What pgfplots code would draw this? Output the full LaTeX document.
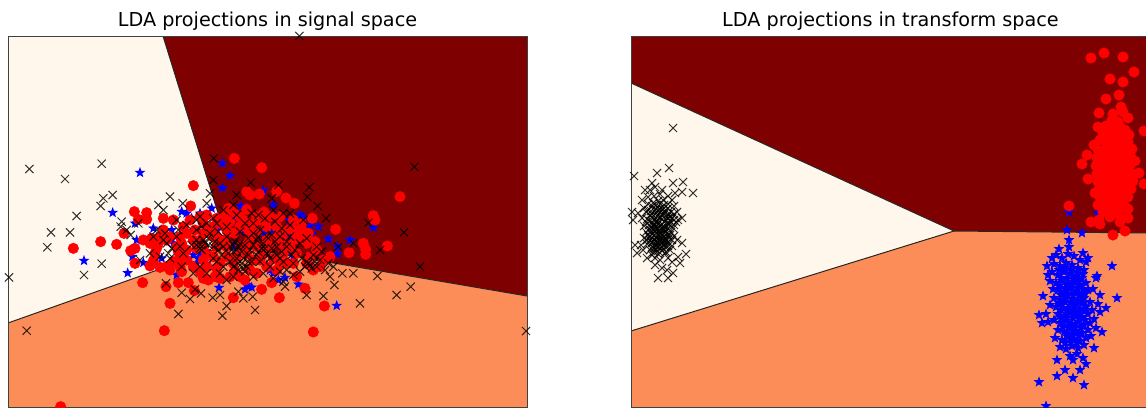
\documentclass[border=0pt]{standalone}
\usepackage{fontspec}
\setmainfont{DejaVu Sans}
\usepackage{pgfplots}
\pgfplotsset{compat=1.18}
\usetikzlibrary{plotmarks}
\definecolor{lowc}{HTML}{FFF7EC}
\definecolor{midc}{HTML}{FC8D59}
\definecolor{highc}{HTML}{7F0000}

% filled five-pointed star
\pgfdeclareplotmark{fstar}{%
  \pgfpathmoveto{\pgfqpointpolar{90}{\pgfplotmarksize}}%
  \pgfpathlineto{\pgfqpointpolar{126}{0.42\pgfplotmarksize}}%
  \pgfpathlineto{\pgfqpointpolar{162}{\pgfplotmarksize}}%
  \pgfpathlineto{\pgfqpointpolar{198}{0.42\pgfplotmarksize}}%
  \pgfpathlineto{\pgfqpointpolar{234}{\pgfplotmarksize}}%
  \pgfpathlineto{\pgfqpointpolar{270}{0.42\pgfplotmarksize}}%
  \pgfpathlineto{\pgfqpointpolar{306}{\pgfplotmarksize}}%
  \pgfpathlineto{\pgfqpointpolar{342}{0.42\pgfplotmarksize}}%
  \pgfpathlineto{\pgfqpointpolar{18}{\pgfplotmarksize}}%
  \pgfpathlineto{\pgfqpointpolar{54}{0.42\pgfplotmarksize}}%
  \pgfpathclose
  \pgfusepathqfill}

\pgfplotsset{
  panel/.style={
    scale only axis,
    width=519pt,
    height=371pt,
    anchor=south west,
    y dir=reverse,
    xtick=\empty,
    ytick=\empty,
    axis on top,
    axis line style={line width=0.9pt, black!75},
    title style={font=\fontsize{19.2}{22}\selectfont, at={(0.5,1)}, anchor=base, yshift=3.5pt},
  },
  region/.style={draw=none, fill=#1, forget plot},
  edge/.style={black!85, line width=1pt, forget plot},
  bluepts/.style={only marks, mark=fstar, mark size=5.6pt, color=blue},
  redpts/.style={only marks, mark=*, mark size=5.3pt, color=red},
  blackpts/.style={only marks, mark=x, mark size=5.8pt, color=black, mark options={line width=1.05pt, opacity=0.8}},
}

\begin{document}
\begin{tikzpicture}
\useasboundingbox (0,0) rectangle (1146pt,407pt);

% left panel, coordinates are 3x picture pixels
\begin{axis}[panel, at={(8pt,0pt)},
    xmin=24, xmax=1581, ymin=-282, ymax=831,
    title={LDA projections in signal space}]
\addplot[region=lowc] coordinates {(24,-282) (489,-282) (684,345) (24,579)} -- cycle;
\addplot[region=highc] coordinates {(489,-282) (1581,-282) (1581,498) (684,345)} -- cycle;
\addplot[region=midc] coordinates {(24,579) (684,345) (1581,498) (1581,831) (24,831)} -- cycle;
\addplot[edge] coordinates {(489,-282) (684,345) (1581,498)};
\addplot[edge] coordinates {(24,579) (684,345)};

\addplot[bluepts] coordinates {
(420,128) (667,100) (690,137) (667,174) (790,182) (338,248) (252,392) (383,429) (1010,527) (657,473)
(1120,293) (1050,330) (985,327) (955,290) (935,312) (1012,372) (1012,350) (900,255) (820,225) (722,228)
(700,258) (635,235) (600,250) (545,245) (520,270) (460,295) (405,280) (410,330) (397,380) (430,398)
(485,385) (530,435) (580,375) (590,400) (575,405) (630,410) (810,420) (835,450) (855,443) (895,463)
(745,470) (735,478) (880,380) (820,300) (760,295) (700,350) (560,250) (575,265) (515,300) (520,340)
(485,300) (600,370) (595,385) (650,300) (725,300) (790,310) (870,270) (890,300) (860,320) (930,285)
(800,405) (820,430) (900,255) (910,262) (885,290) (740,465) (755,472)
};
\addplot[redpts] coordinates {
(703,85) (785,113) (580,167) (1200,200) (1120,257) (1125,270) (1090,340) (1097,358) (1097,373) (1047,368)
(1162,348) (1007,298) (937,265) (883,220) (858,204) (830,184) (778,192) (740,185) (750,195) (740,238)
(792,246) (685,235) (572,228) (403,245) (440,248) (440,268) (415,268) (372,310) (302,335) (350,343)
(220,355) (405,355) (392,362) (430,330) (405,400) (450,408) (428,458) (460,392) (498,470) (535,458)
(565,458) (583,482) (510,520) (493,602) (940,606) (973,528) (838,503) (700,503) (785,478) (915,475)
(815,458) (182,830) (490,265) (520,270) (550,290) (600,260) (620,255) (650,265) (640,290) (660,280)
(610,280) (585,300) (540,320) (545,340) (510,320) (480,320) (450,340) (470,355) (560,360) (590,355)
(560,390) (500,410) (480,412) (510,420) (540,410) (610,445) (625,450) (645,440) (660,445) (690,440)
(735,450) (720,440) (700,310) (700,400) (740,340) (770,310) (780,270) (760,280) (830,290) (850,330)
(870,350) (905,280) (905,300) (910,330) (880,400) (920,340) (950,360) (960,410) (990,380) (970,390)
(940,420) (890,440) (760,390) (790,370) (800,410) (820,385) (650,350) (680,380) (620,370) (660,400)
(600,330) (640,320) (670,260) (630,300) (690,275) (720,260) (745,300) (800,290) (840,260) (720,350)
(770,350) (750,420) (840,340) (860,400) (930,380) (620,410) (580,330) (670,330)
(610,310) (650,320) (680,300) (720,290) (760,320) (800,330) (830,320) (860,300) (880,330) (890,370)
(850,370) (810,350) (780,390) (740,370) (710,380) (680,350) (640,380) (610,390) (580,410) (540,380)
(530,350) (610,350) (705,425) (770,430) (840,400) (920,400) (945,335) (880,270) (810,260) (700,245)
(650,415) (600,425) (830,420) (770,260) (730,270) (925,310) (520,395) (475,340)
(455,325) (500,330) (465,370) (535,365) (560,310) (570,270) (490,300) (545,425) (885,300) (905,315)
};
\addplot[blackpts] coordinates {
(88,117) (195,147) (305,101) (641,85) (1243,110) (230,258) (153,307) (210,307) (142,352) (305,401)
(252,435) (27,442) (80,602) (302,228) (310,205) (338,195) (365,275) (362,290) (392,315) (510,200)
(548,220) (475,225) (490,240) (620,220) (640,150) (752,158) (835,165) (928,172) (922,200) (953,228)
(978,265) (1105,278) (1212,307) (1140,360) (1260,410) (1132,438) (1060,430) (1027,430) (1003,465) (970,498)
(920,495) (1080,520) (1190,495) (1232,470) (765,540) (667,557) (680,528) (535,552) (570,507) (545,488)
(603,490) (638,503) (660,495) (585,478) (498,460) (715,485) (730,505) (758,500) (855,470) (710,195)
(815,205) (850,250) (600,260) (420,390) (505,370) (898,-282) (1578,603) (630,190) (415,280) (380,300)
(470,300) (490,330) (530,320) (480,380) (510,385) (550,370) (545,410) (580,430) (600,345) (590,330)
(615,340) (600,355) (625,325) (640,350) (605,290) (620,280) (655,305) (680,320) (705,335) (715,350)
(700,365) (725,365) (710,385) (690,395) (670,410) (650,395) (665,375) (640,385) (725,400) (740,410)
(755,395) (735,425) (715,420) (700,410) (760,345) (745,325) (770,330) (785,355) (800,370) (815,355)
(790,340) (830,375) (810,385) (845,365) (860,350) (780,300) (760,280) (795,265) (825,275) (845,295)
(870,285) (815,315) (840,320) (870,320) (885,360) (900,340) (920,325) (905,385) (930,405) (945,395)
(915,410) (900,425) (965,365) (985,400) (975,420) (990,440) (950,350) (940,375) (860,420) (880,435)
(840,425) (820,445) (850,455) (790,430) (760,440) (700,440) (680,450) (660,430) (620,430) (600,410)
(660,340) (640,265) (680,290) (735,280) (710,255) (755,250) (775,255) (560,285) (590,270) (535,300)
(500,340) (515,355) (1000,410) (1015,350) (1060,340) (870,250) (820,240) (700,225) (670,240) (910,270)
(630,310) (575,345) (720,305) (735,345) (745,375) (770,375) (780,395) (825,335) (850,395) (875,375)
(590,345) (610,330) (605,360) (625,345) (700,345) (710,360) (720,340) (730,385) (715,400) (730,415)
(745,395) (750,360) (795,355) (805,375) (775,365) (925,400) (935,415) (920,395) (655,360) (670,350)
(690,350) (685,370) (645,335) (760,310) (800,320) (830,350) (860,335) (840,385) (810,410) (880,400)
(960,390) (950,410) (495,310) (540,350) (460,320) (450,370) (530,270) (590,300) (650,280) (775,320)
};
\end{axis}

% right panel, coordinates are picture pixels
\begin{axis}[panel, at={(631pt,0pt)},
    xmin=631, xmax=1150, ymin=36, ymax=407,
    title={LDA projections in transform space}]
\addplot[region=highc] coordinates {(631,36) (1150,36) (1150,233) (954,231) (631,83)} -- cycle;
\addplot[region=lowc] coordinates {(631,83) (954,231) (631,331)} -- cycle;
\addplot[region=midc] coordinates {(631,331) (954,231) (1150,233) (1150,407) (631,407)} -- cycle;
\addplot[edge] coordinates {(631,83) (954,231) (1150,233)};
\addplot[edge] coordinates {(631,331) (954,231)};

\addplot[bluepts] coordinates {
(1039,382) (1046,406) (1057,376) (1065,370) (1073,378) (1084,385) (1080,370) (1057,360) (1086,364) (1083,358)
(1073,360) (1102,332) (1106,308) (1100,312) (1117,298) (1100,295) (1112,266) (1097,276) (1096,278) (1093,289)
(1039,315) (1042,323) (1048,322) (1043,296) (1047,266) (1048,275) (1067,230) (1082,233) (1069,240) (1069,247)
(1059,249) (1083,253) (1088,258) (1069,212) (1098,213)
(1056,255) (1062,258) (1068,254) (1074,256) (1080,260) (1086,262) (1054,264) (1060,266) (1066,263) (1072,265)
(1078,268) (1084,270) (1052,272) (1058,275) (1064,272) (1070,274) (1076,276) (1082,278) (1056,283) (1062,281)
(1068,284) (1074,282) (1080,285) (1086,283) (1058,290) (1064,292) (1070,289) (1076,291) (1082,293) (1088,290)
(1054,298) (1060,300) (1066,297) (1072,299) (1078,301) (1084,298) (1090,302) (1050,305) (1056,307) (1062,305)
(1068,308) (1074,306) (1080,309) (1086,307) (1092,310) (1058,314) (1064,316) (1070,313) (1076,315) (1082,317)
(1088,314) (1094,319) (1054,320) (1060,323) (1066,321) (1072,324) (1078,322) (1084,325) (1090,323) (1058,330)
(1064,332) (1070,329) (1076,331) (1082,333) (1088,330) (1096,328) (1055,338) (1062,340) (1068,337) (1074,339)
(1080,341) (1086,338) (1091,336) (1060,347) (1066,349) (1072,346) (1078,348) (1084,345) (1070,356) (1077,354)
(1059,270) (1065,268) (1071,270) (1077,272) (1083,274) (1061,278) (1067,279) (1073,279) (1079,281) (1059,286)
(1065,288) (1071,286) (1077,288) (1083,289) (1061,295) (1067,294) (1073,295) (1079,296) (1085,294) (1059,303)
(1065,302) (1071,303) (1077,304) (1083,303) (1061,310) (1067,311) (1073,310) (1079,312) (1085,311) (1061,318)
(1067,318) (1073,318) (1079,319) (1085,320) (1063,327) (1069,326) (1075,327) (1081,328) (1067,334) (1073,335)
(1079,336) (1065,343) (1071,342) (1077,343) (1052,258) (1050,281) (1053,289) (1046,314) (1098,304) (1094,348)
};
\addplot[redpts] coordinates {
(1091,58) (1104,53) (1123,57) (1134,72) (1110,79) (1123,82) (1119,95) (1106,99) (1099,113) (1121,107)
(1123,112) (1128,118) (1113,114) (1098,127) (1144,131) (1094,145) (1087,155) (1082,164) (1088,179) (1135,161)
(1139,173) (1144,184) (1095,193) (1069,206) (1091,222) (1100,224) (1099,220) (1113,235) (1125,231) (1120,222)
(1128,218) (1128,209) (1110,217)
(1112,120) (1118,122) (1106,126) (1113,128) (1120,127) (1125,130) (1103,133) (1110,135) (1117,134) (1124,137)
(1129,135) (1100,140) (1107,143) (1114,141) (1121,144) (1128,142) (1098,150) (1105,150) (1112,149) (1119,151)
(1126,150) (1132,149) (1097,158) (1104,157) (1111,158) (1118,157) (1125,159) (1131,157) (1096,166) (1103,165)
(1110,166) (1117,165) (1124,167) (1130,165) (1097,174) (1104,173) (1111,175) (1118,173) (1125,175) (1132,174)
(1098,182) (1105,181) (1112,183) (1119,181) (1126,183) (1133,181) (1099,190) (1106,189) (1113,191) (1120,189)
(1127,191) (1131,189) (1100,197) (1107,198) (1114,197) (1121,199) (1128,197) (1098,205) (1105,205) (1112,207)
(1119,205) (1125,207) (1103,212) (1112,213) (1119,214)
};
\addplot[blackpts] coordinates {
(673,128) (669,168) (657,173) (634,176) (693,193) (683,182) (673,183) (682,192) (675,193) (652,183)
(658,278) (668,278) (673,273) (662,268) (655,265) (667,270) (680,263) (686,254) (678,257) (682,243)
(677,240) (637,253) (635,245) (633,220) (632,212) (638,213) (647,258) (665,253) (682,218) (645,190)
(650,190) (655,187) (648,197) (654,196) (660,194) (642,200) (644,208) (662,190) (668,196) (672,200)
(648,204) (653,203) (658,201) (663,200) (668,204) (674,206) (646,212) (651,211) (656,209) (661,208)
(666,210) (671,212) (677,212) (642,218) (647,219) (652,217) (657,216) (662,215) (667,217) (672,218)
(678,220) (644,226) (649,225) (654,224) (659,223) (664,222) (669,224) (674,225) (646,232) (651,231)
(656,230) (661,229) (666,231) (671,232) (644,238) (649,237) (654,236) (659,235) (664,237) (669,238)
(674,236) (647,244) (652,243) (657,242) (662,241) (667,243) (672,246) (650,250) (655,249) (660,248)
(665,247) (670,250) (652,255) (658,254) (641,245) (643,250) (660,260) (668,258) (672,262) (655,258)
(652,206) (656,205) (660,204) (664,205) (668,208) (652,214) (656,213) (660,212) (664,212) (668,214)
(650,221) (654,220) (658,220) (662,219) (666,220) (670,221) (652,228) (656,227) (660,226) (664,226)
(668,228) (648,235) (652,234) (656,233) (660,232) (664,233) (668,235) (650,240) (654,240) (658,239)
(662,238) (666,240) (652,247) (656,246) (660,245) (664,244) (668,246) (654,252) (658,251) (662,251)
(666,252) (656,218) (660,217) (654,230) (658,229) (662,228) (656,237) (660,237) (664,236) (658,243)
(662,243) (655,210) (659,209) (663,209)
(650,215) (649,229) (647,240) (674,214) (676,222) (673,228) (672,240) (670,235) (646,222) (648,210)
(664,214) (668,218) (664,230) (668,224) (652,224) (650,236) (654,226) (657,222) (661,234) (665,228)
(670,217) (674,220) (652,242) (656,241) (660,240) (664,240) (668,242) (654,248) (658,247) (662,247)
};
\end{axis}
\end{tikzpicture}
\end{document}
